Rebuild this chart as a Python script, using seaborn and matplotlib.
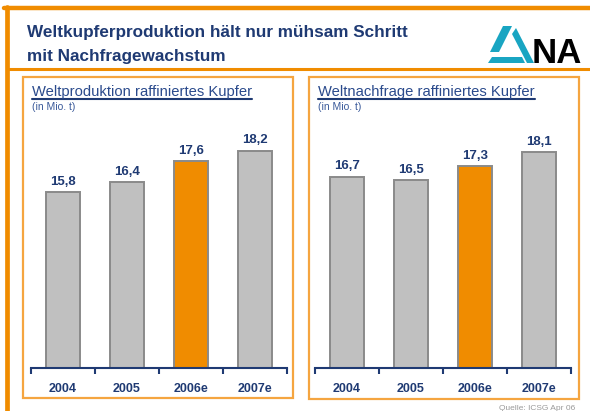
import matplotlib.pyplot as plt
import seaborn as sns
from matplotlib.patches import Rectangle, Polygon
from matplotlib.lines import Line2D

# data
years = ['2004', '2005', '2006e', '2007e']
produktion = [15.8, 16.4, 17.6, 18.2]
nachfrage = [16.7, 16.5, 17.3, 18.1]
value_labels_prod = ['15,8', '16,4', '17,6', '18,2']
value_labels_nach = ['16,7', '16,5', '17,3', '18,1']

ORANGE = '#F08C00'
NAVY = '#1F3A73'
GREY = '#C0C0C0'
W, H = 590, 411

sns.set_style('white')
plt.rcParams['font.family'] = ['Liberation Sans', 'DejaVu Sans']

fig = plt.figure(figsize=(5.9, 4.11), dpi=100)


def fx(x):
    return x / W


def fy(y):
    return 1 - y / H


def poly(pts, color):
    fig.patches.append(Polygon([(fx(a), fy(b)) for a, b in pts], closed=True,
                               transform=fig.transFigure, color=color, linewidth=0))


def bar_panel(left_px, values, labels, title, box):
    ax = fig.add_axes([fx(left_px), fy(368), 256 / W, 248 / H])
    colors = [GREY, GREY, ORANGE, GREY]
    sns.barplot(x=years, y=values, hue=years, palette=colors, legend=False,
                saturation=1, width=0.52, edgecolor='#8A8A8A', linewidth=1.4, ax=ax)
    ax.set_xlim(-0.5, 3.5)
    ax.set_ylim(5.7, 5.7 + 248 / 17.4)
    for cont, lab in zip(ax.containers, labels):
        ax.bar_label(cont, labels=[lab], padding=3, color=NAVY,
                     fontsize=9.5, fontweight='bold')
    sns.despine(ax=ax, left=True)
    ax.spines['bottom'].set_color(NAVY)
    ax.spines['bottom'].set_linewidth(1.5)
    ax.set_yticks([])
    ax.set_xticks(range(4))
    ax.set_xticklabels(years, color=NAVY, fontsize=9, fontweight='bold')
    ax.tick_params(axis='x', length=0, pad=11)
    ax.set_xticks([-0.5, 0.5, 1.5, 2.5, 3.5], minor=True)
    ax.tick_params(axis='x', which='minor', bottom=True, length=4, width=1.5,
                   color=NAVY, direction='out')
    ax.set_xlabel('')
    ax.set_ylabel('')
    ax.patch.set_alpha(0)

    x0, y0, x1, y1 = box
    fig.patches.append(Rectangle((fx(x0), fy(y1)), (x1 - x0) / W, (y1 - y0) / H,
                                 transform=fig.transFigure, fill=False,
                                 edgecolor='#F5A540', linewidth=1.6))
    t = fig.text(fx(x0 + 9), fy(92), title, color='#2A4A8C', fontsize=10.6,
                 va='center', ha='left')
    fig.canvas.draw()
    bb = t.get_window_extent()
    fig.lines.append(Line2D([fx(x0 + 9), bb.x1 / fig.bbox.width], [fy(99.5), fy(99.5)],
                            transform=fig.transFigure, color=NAVY, linewidth=1.5))
    fig.text(fx(x0 + 9), fy(107), '(in Mio. t)', color='#3A5A9A', fontsize=7.5,
             va='center', ha='left')
    return ax


bar_panel(31, produktion, value_labels_prod,
          'Weltproduktion raffiniertes Kupfer', (23, 77, 293, 398))
bar_panel(315, nachfrage, value_labels_nach,
          'Weltnachfrage raffiniertes Kupfer', (309, 77, 579, 399))

# outer frame
fig.lines.append(Line2D([fx(4), fx(590)], [fy(8.5), fy(8.5)], transform=fig.transFigure,
                        color=ORANGE, linewidth=3.2))
fig.lines.append(Line2D([fx(6.5), fx(6.5)], [fy(7), fy(411)], transform=fig.transFigure,
                        color=ORANGE, linewidth=3.4))
fig.lines.append(Line2D([fx(8), fx(590)], [fy(69.5), fy(69.5)], transform=fig.transFigure,
                        color=ORANGE, linewidth=2.2))

# main title
fig.text(fx(27), fy(33), 'Weltkupferproduktion hält nur mühsam Schritt',
         color=NAVY, fontsize=12.3, fontweight='bold', va='center', ha='left')
fig.text(fx(27), fy(56), 'mit Nachfragewachstum',
         color=NAVY, fontsize=12.3, fontweight='bold', va='center', ha='left')

# logo
teal = '#19A5C2'
poly([(503, 26), (512, 26), (499, 52), (490, 52)], teal)
poly([(492, 57), (522, 57), (525, 63), (488, 63)], teal)
poly([(512, 34), (516, 28), (534, 63), (527, 63)], teal)
fig.text(fx(532), fy(63), 'NA', color='black', fontsize=25, fontweight='bold',
         va='baseline', ha='left')

# source
fig.text(fx(499), fy(408), 'Quelle: ICSG Apr 06', color='#9A9A9A', fontsize=6,
         va='center', ha='left')

fig.savefig('out.png', dpi=100)
